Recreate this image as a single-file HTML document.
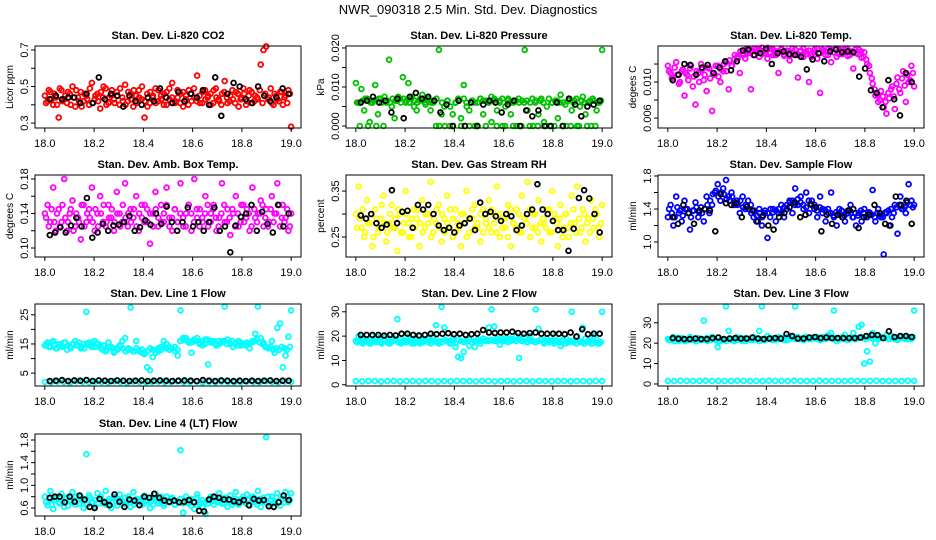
<!DOCTYPE html>
<html><head><meta charset="utf-8"><style>
html,body{margin:0;padding:0;background:#fff}
svg{display:block;font-family:"Liberation Sans",sans-serif}
</style></head><body>
<svg id="fig" width="936" height="540" viewBox="0 0 936 540" xmlns="http://www.w3.org/2000/svg">
<text x="468" y="14" text-anchor="middle" font-size="13">NWR_090318  2.5 Min. Std. Dev. Diagnostics</text>
</svg>
<script>
// ---- data ----
const xTicks = [18.0, 18.2, 18.4, 18.6, 18.8, 19.0];
const xTickLabels = ["18.0","18.2","18.4","18.6","18.8","19.0"];

const co2Red = [0.45,0.42,0.47,0.40,0.44,0.33,0.48,0.43,0.41,0.46,0.50,0.39,0.44,0.47,0.42,0.45,0.40,0.52,0.43,0.46,0.38,0.44,0.49,0.41,0.45,0.43,0.47,0.40,0.44,0.51,0.42,0.46,0.39,0.45,0.48,0.43,0.33,0.46,0.41,0.44,0.49,0.42,0.45,0.40,0.47,0.43,0.52,0.41,0.44,0.46,0.39,0.45,0.48,0.42,0.44,0.56,0.41,0.47,0.43,0.45,0.40,0.48,0.44,0.42,0.46,0.53,0.41,0.45,0.43,0.47,0.39,0.44,0.46,0.42,0.48,0.41,0.45,0.43,0.62,0.70,0.72,0.44,0.41,0.46,0.43,0.47,0.40,0.45,0.48,0.28];
const co2RedB = [0.41,0.48,0.43,0.46,0.40,0.49,0.42,0.45,0.47,0.40,0.44,0.48,0.42,0.39,0.46,0.43,0.49,0.41,0.45,0.42,0.47,0.50,0.40,0.44,0.48,0.41,0.45,0.49,0.42,0.40,0.47,0.43,0.48,0.41,0.44,0.50,0.42,0.39,0.47,0.45,0.41,0.48,0.43,0.46,0.40,0.49,0.44,0.42,0.48,0.41,0.47,0.43,0.40,0.46,0.49,0.42,0.45,0.41,0.48,0.44,0.46,0.41,0.49,0.43,0.40,0.47,0.44,0.42,0.48,0.41,0.46,0.43,0.49,0.40,0.45,0.47,0.42,0.44,0.48,0.41,0.46,0.43,0.49,0.40,0.45,0.42,0.47,0.44,0.41,0.46];
const co2Black = [0.43,0.45,0.43,0.44,0.44,0.41,0.46,0.41,0.55,0.43,0.46,0.45,0.39,0.45,0.42,0.40,0.44,0.42,0.49,0.44,0.41,0.47,0.42,0.46,0.44,0.48,0.40,0.55,0.34,0.46,0.52,0.50,0.43,0.41,0.50,0.45,0.42,0.44,0.49,0.46];

const presGreen = [0.011,0.006,0.0095,0.004,0.007,0.001,0.006,0.0105,0.003,0.007,0,0.006,0.017,0.005,0.002,0.0065,0.007,0.0125,0.006,0.011,0.007,0.005,0.004,0.0065,0.008,0.006,0.0065,0.004,0.006,0,0.0195,0.003,0.005,0.0065,0,0.003,0.006,0.007,0.002,0.0105,0.006,0.004,0.0065,0,0.006,0.007,0.003,0.0065,0.006,0.001,0.007,0.004,0.0065,0,0.005,0.007,0.003,0.006,0,0.006,0.0065,0.0195,0.004,0.006,0,0.0065,0.003,0.007,0.001,0.005,0,0.006,0.0065,0.002,0.008,0.006,0,0.007,0.004,0.0065,0,0.005,0.0075,0.003,0.006,0,0.0065,0.004,0.006,0.0195];
const presGreenB = [0.006,0,0.0065,0.007,0,0.006,0.0065,0,0.007,0.006,0.0075,0.0065,0.006,0.007,0.0065,0.0075,0.006,0.007,0.0065,0.006,0.0075,0.0065,0.006,0.007,0.0065,0.0055,0.007,0.006,0.0065,0.007,0,0.006,0,0.0065,0.005,0,0.006,0.0065,0,0.007,0.005,0,0.0065,0.006,0,0.007,0.0065,0,0.006,0.0075,0.0065,0,0.006,0.007,0,0.0065,0.006,0,0.0065,0.007,0,0.006,0.0065,0,0.007,0.006,0,0.0065,0.006,0,0.007,0.006,0,0.0065,0.006,0,0.0055,0.0065,0,0.006,0.007,0,0.0065,0.006,0,0.0065,0.007,0,0.006,0.0065];
const presBlack = [0.006,0.0065,0.0075,0.006,0.0065,0.0035,0.007,0.002,0.0075,0.0085,0.007,0.0075,0.0065,0.0035,0.0055,0,0.0065,0,0.006,0,0.0055,0.0065,0.006,0.0035,0.0055,0.0065,0,0.004,0.0025,0.004,0,0,0.006,0,0.007,0.0055,0.0025,0.005,0.0055,0.0065];

const tempMag = [0.0118,0.0110,0.0105,0.0122,0.0098,0.0112,0.0085,0.0108,0.0115,0.0095,0.0075,0.0110,0.0120,0.0102,0.0090,0.0115,0.0068,0.0108,0.0118,0.0100,0.0112,0.0122,0.0092,0.0118,0.0125,0.0128,0.0110,0.0132,0.0126,0.0134,0.0092,0.0130,0.0136,0.0128,0.0138,0.0132,0.0126,0.0137,0.0130,0.0134,0.0110,0.0136,0.0129,0.0133,0.0124,0.0137,0.0131,0.0105,0.0135,0.0128,0.0134,0.0100,0.0131,0.0136,0.0126,0.0088,0.0134,0.0130,0.0137,0.0122,0.0133,0.0128,0.0136,0.0131,0.0137,0.0129,0.0134,0.0115,0.0132,0.0136,0.0127,0.0133,0.0120,0.0110,0.0098,0.0085,0.0078,0.0090,0.0072,0.0065,0.0082,0.0095,0.0070,0.0105,0.0088,0.0112,0.0078,0.0100,0.0118,0.0095];
const tempMagB = [0.0112,0.0104,0.0116,0.0108,0.0100,0.0114,0.0110,0.0102,0.0118,0.0106,0.0112,0.0100,0.0114,0.0108,0.0116,0.0104,0.0110,0.0118,0.0106,0.0114,0.0120,0.0112,0.0124,0.0118,0.0130,0.0126,0.0134,0.0130,0.0136,0.0132,0.0135,0.0137,0.0133,0.0136,0.0131,0.0135,0.0138,0.0132,0.0136,0.0130,0.0134,0.0137,0.0131,0.0135,0.0129,0.0133,0.0136,0.0130,0.0134,0.0137,0.0131,0.0135,0.0128,0.0133,0.0137,0.0132,0.0136,0.0134,0.0130,0.0136,0.0133,0.0137,0.0131,0.0135,0.0133,0.0137,0.0130,0.0134,0.0136,0.0131,0.0134,0.0128,0.0125,0.0118,0.0104,0.0092,0.0086,0.0080,0.0084,0.0078,0.0088,0.0092,0.0084,0.0098,0.0092,0.0104,0.0096,0.0108,0.0102,0.0110];
const tempBlack = [0.0102,0.0108,0.0120,0.0119,0.0108,0.0116,0.0119,0.0110,0.0116,0.0123,0.0113,0.0123,0.0135,0.0136,0.0130,0.0132,0.0137,0.0120,0.0132,0.0134,0.0131,0.0130,0.0128,0.0114,0.0125,0.0132,0.0123,0.0134,0.0136,0.0133,0.0134,0.0133,0.0106,0.0115,0.0091,0.0088,0.0072,0.0102,0.0081,0.0063,0.0110,0.0100];

const ambMag = [0.14,0.15,0.13,0.17,0.12,0.145,0.13,0.18,0.12,0.14,0.155,0.125,0.135,0.11,0.15,0.13,0.145,0.17,0.12,0.14,0.16,0.13,0.125,0.15,0.135,0.12,0.165,0.14,0.13,0.175,0.125,0.145,0.135,0.16,0.12,0.15,0.13,0.145,0.105,0.14,0.165,0.125,0.15,0.13,0.17,0.135,0.12,0.145,0.13,0.175,0.125,0.14,0.15,0.12,0.18,0.135,0.145,0.13,0.16,0.125,0.14,0.15,0.12,0.135,0.175,0.13,0.145,0.115,0.14,0.16,0.125,0.15,0.13,0.145,0.12,0.17,0.135,0.14,0.155,0.125,0.145,0.13,0.16,0.14,0.175,0.125,0.15,0.135,0.12,0.14];
const ambMagB = [0.135,0.125,0.145,0.13,0.14,0.125,0.15,0.135,0.13,0.145,0.12,0.14,0.13,0.15,0.125,0.14,0.135,0.13,0.145,0.125,0.14,0.15,0.13,0.135,0.145,0.13,0.14,0.125,0.15,0.135,0.14,0.13,0.145,0.125,0.14,0.135,0.15,0.13,0.14,0.125,0.145,0.135,0.13,0.14,0.15,0.125,0.135,0.145,0.13,0.14,0.135,0.125,0.15,0.14,0.13,0.145,0.125,0.135,0.14,0.15,0.13,0.145,0.135,0.125,0.14,0.15,0.13,0.135,0.145,0.125,0.14,0.13,0.15,0.135,0.14,0.125,0.145,0.13,0.14,0.15,0.135,0.125,0.145,0.13,0.14,0.15,0.135,0.13,0.145,0.125];
const ambBlack = [0.115,0.118,0.124,0.118,0.126,0.135,0.125,0.158,0.112,0.118,0.128,0.12,0.126,0.127,0.13,0.137,0.12,0.124,0.132,0.127,0.14,0.128,0.148,0.13,0.12,0.13,0.147,0.125,0.13,0.12,0.13,0.147,0.12,0.125,0.095,0.126,0.136,0.14,0.15,0.12,0.142,0.128,0.118,0.15,0.125,0.14];

const rhYellow = [0.30,0.36,0.27,0.25,0.33,0.28,0.23,0.31,0.26,0.29,0.34,0.24,0.28,0.32,0.27,0.22,0.30,0.26,0.35,0.28,0.25,0.31,0.29,0.23,0.33,0.27,0.30,0.37,0.26,0.28,0.32,0.24,0.29,0.34,0.27,0.25,0.31,0.28,0.23,0.30,0.35,0.26,0.29,0.32,0.27,0.24,0.31,0.28,0.33,0.26,0.30,0.36,0.25,0.29,0.27,0.32,0.23,0.28,0.31,0.26,0.34,0.29,0.37,0.25,0.30,0.27,0.33,0.24,0.28,0.31,0.26,0.35,0.29,0.23,0.32,0.27,0.30,0.25,0.34,0.28,0.36,0.26,0.31,0.24,0.29,0.33,0.27,0.30,0.25,0.32];
const rhYellowB = [0.27,0.29,0.31,0.26,0.28,0.30,0.25,0.29,0.27,0.32,0.28,0.26,0.30,0.27,0.29,0.31,0.26,0.28,0.30,0.25,0.29,0.27,0.31,0.28,0.26,0.30,0.28,0.25,0.29,0.31,0.27,0.30,0.26,0.28,0.31,0.29,0.26,0.27,0.30,0.28,0.25,0.29,0.31,0.27,0.28,0.30,0.26,0.29,0.27,0.31,0.28,0.26,0.30,0.27,0.29,0.25,0.31,0.28,0.27,0.30,0.26,0.29,0.28,0.31,0.27,0.30,0.26,0.28,0.29,0.27,0.31,0.26,0.30,0.28,0.29,0.25,0.30,0.27,0.28,0.31,0.26,0.29,0.27,0.30,0.28,0.26,0.29,0.31,0.27,0.28];
const rhBlack = [0.297,0.29,0.30,0.28,0.27,0.277,0.352,0.28,0.305,0.307,0.27,0.32,0.31,0.32,0.30,0.275,0.265,0.27,0.26,0.275,0.28,0.29,0.265,0.325,0.30,0.305,0.295,0.285,0.30,0.295,0.265,0.275,0.30,0.31,0.365,0.31,0.30,0.285,0.265,0.265,0.22,0.268,0.335,0.352,0.334,0.30,0.26];

const flowBlue = [1.3,1.45,1.2,1.55,1.35,1.25,1.5,1.4,1.15,1.38,1.48,1.3,1.42,1.25,1.55,1.35,1.45,1.6,1.7,1.5,1.65,1.75,1.55,1.6,1.45,1.5,1.35,1.55,1.4,1.5,1.45,1.3,1.25,1.4,1.2,1.35,1.05,1.3,1.4,1.25,1.35,1.45,1.3,1.4,1.5,1.35,1.65,1.45,1.55,1.4,1.6,1.35,1.5,1.45,1.3,1.55,1.4,1.25,1.35,1.6,1.3,1.2,1.4,1.3,1.25,1.35,1.45,1.3,1.2,1.35,1.25,1.4,1.3,1.35,1.63,1.25,1.4,1.3,0.85,1.35,1.2,1.3,1.45,1.1,1.55,1.4,1.35,1.7,1.5,1.45];
const flowBlueB = [1.4,1.35,1.3,1.42,1.38,1.32,1.4,1.35,1.3,1.38,1.42,1.36,1.35,1.4,1.45,1.5,1.58,1.62,1.55,1.6,1.58,1.52,1.5,1.55,1.48,1.45,1.5,1.42,1.45,1.4,1.35,1.38,1.32,1.35,1.3,1.38,1.35,1.4,1.36,1.38,1.4,1.35,1.42,1.45,1.48,1.5,1.45,1.52,1.48,1.45,1.42,1.5,1.45,1.4,1.38,1.42,1.35,1.38,1.4,1.35,1.32,1.36,1.35,1.38,1.32,1.35,1.38,1.3,1.35,1.32,1.38,1.35,1.3,1.36,1.33,1.3,1.35,1.32,1.3,1.36,1.38,1.4,1.35,1.42,1.45,1.4,1.42,1.48,1.45,1.42];
const flowBlack = [1.3,1.22,1.45,1.35,1.22,1.38,1.4,1.38,1.13,1.58,1.47,1.45,1.47,1.3,1.43,1.38,1.25,1.32,1.2,1.15,1.3,1.35,1.42,1.48,1.3,1.33,1.46,1.42,1.13,1.33,1.22,1.33,1.3,1.38,1.4,1.17,1.3,1.33,1.45,1.35,1.22,1.2,1.55,1.45,1.5,1.22];

const line1Cyan = [14.5,15.5,14,16,13.5,15,14.5,15.5,13,14,15,16,14.5,13.5,15,26,15.5,14,16,15,14.5,13,12.5,15.5,14,12,13.5,14.5,16,17,13,27.5,12.5,16,13,12,11.5,7,6,10.5,13,12.5,14,16,15,14,13.5,12.5,11,26.5,17,16.5,15.5,12,16,17,15,14.5,16.5,8,15.5,16,14.5,15,16,27.8,16.5,15,14,15.5,16,14.5,15,15.5,13.5,16,18.5,27.8,17,15.5,14,13.5,16,12,20.5,22,7,11,17.5,26.5];
const line1CyanB = [15,14,15.5,14.5,13.5,15,14,15.5,14.5,13.5,15,14.5,15.5,14,13.5,15,14.5,15.5,14,15,13.5,14.5,13,14,13.5,12.5,13,14,13.5,12.5,13.5,13,12.5,13.5,12.5,13,12,12.5,13.5,13,12,13.5,13,14,13.5,13,13.5,14,13,16,16.5,17,16,15.5,16.5,16,15.5,16,15,16.5,16,15.5,15,16,15.5,16,15,15.5,16,15,14.5,15.5,15,14.5,15,15.5,16,16.5,15.5,15,14,13.5,14,13,13.5,13,14,13.5,13,14];
const line1Low = [2.0,1.9,2.1,2.0,1.8,2.2,2.0,1.9,2.1,2.0,1.9,2.2,2.0,1.8,2.1,2.0,1.9,2.0,2.1,1.9,2.0,2.2,1.9,2.0,2.1,1.8,2.0,1.9,2.1,2.0,1.9,2.0,2.1,2.0,1.9,2.2,2.0,1.9,2.1,2.0];
const line1Black = [2.3,2.4,2.6,2.3,2.5,2.4,2.6,2.3,2.5,2.4,2.3,2.5,2.4,2.3,2.4,2.5,2.3,2.4,2.5,2.4,2.3,2.4,2.5,2.4,2.3,2.6,2.4,2.3,2.5,2.4,2.3,2.4,2.3,2.4,2.3,2.4,2.5,2.3,2.4,2.4];

const line2Cyan = [18,20,17.5,19,18.5,17,20,18,19.5,17.5,18.5,20,17,18,19,27,18.5,17.5,20,18,19,17,18.5,20,17.5,18,19,18.5,20,24.5,17,32,23.5,18,17,19,15.5,11.5,11,13.5,18,16,17.5,15.5,18.5,17,19,18,23.5,31,24,18,16.5,19,18,17.5,19,18.5,20,11,18,19.5,17.5,20,18,31,23,18.5,17,19,18,17.5,20,18,16,18.5,19,17.5,30,18,20,17.5,23.5,19,18,17,20,18.5,17,30];
const line2CyanB = [17.5,18,17,18.5,17.5,17,18,17.5,18.5,17,18,17.5,17,18,18.5,17.5,17,18,17.5,18.5,17,18,17.5,17,18,18.5,17.5,17,18,17.5,18,17.5,18.5,18,17.5,18,17,18.5,18,17.5,18,18.5,17.5,18,18.5,18,19,18.5,18,18.5,18,19,18.5,18,18.5,19,18,18.5,18,19,18.5,18,17.5,18.5,18,17.5,18,18.5,17.5,18,17.5,18,17,18,17.5,18,17,17.5,18,17.5,17,18,17.5,17,17.5,18,17,17.5,17,17.5];
const line2Low = [1.5,1.4,1.6,1.5,1.3,1.5,1.6,1.4,1.5,1.5,1.4,1.6,1.5,1.3,1.5,1.4,1.6,1.5,1.5,1.4,1.6,1.5,1.4,1.5,1.6,1.4,1.5,1.5,1.3,1.6,1.5,1.4,1.5,1.6,1.4,1.5,1.5,1.4,1.6,1.5];
const line2Black = [20.5,20.5,20.5,20.5,20.2,20.5,20.3,21,21,20.5,20.3,20.5,21,20.8,21,21.2,20.8,21,20.5,20.8,21,22.5,21.5,21.3,21.5,21.5,21.8,21.3,21,21.3,21.5,21,21,21,21,20.8,21.5,19.8,22.8,20.8,21,21];

const line3Cyan = [22,21.5,23,22,21,22.5,22,21.5,23,22,21,22.5,22,31,22.5,21.5,23,22,18,21,22,38,26,22,21.5,23,22,21,22.5,22,21.5,23,22,26,38,22,23.5,22,21.5,22.5,23,22,21.5,23,22,22.5,38,23,22,21.5,23,22,22.5,23,22,21.5,23,22,24,25,36,21,22,23,24,21.5,22.5,25,22,28,29,10,16,11,25,20,22,23,22.5,24,22,23.5,22,21.5,23,22.5,22,23,22,36];
const line3CyanB = [21.5,22,21,22.5,21.5,22,21,21.5,22,21.5,21,22,21.5,22,21,21.5,22,21.5,21,22,21.5,21,22,21.5,21,22,21.5,22,21,21.5,22,21.5,22,21,22,21.5,22,22.5,22,21.5,22,22.5,22,21.5,22,22.5,22,22.5,22,22.5,23,22.5,22,22.5,23,22.5,22,22.5,23,22.5,22,22.5,22,22.5,22,22.5,22,22.5,22,22.5,23,22.5,22,23,22.5,23,23.5,22.5,23,22.5,22,23,22.5,22,22.5,23,22.5,22,22.5,23];
const line3Low = [1.5,1.4,1.6,1.5,1.4,1.5,1.6,1.4,1.5,1.5,1.4,1.6,1.5,1.4,1.5,1.4,1.6,1.5,1.5,1.4,1.6,1.5,1.4,1.5,1.6,1.4,1.5,1.5,1.4,1.6,1.5,1.4,1.5,1.6,1.4,1.5,1.5,1.4,1.6,1.5];
const line3Black = [22.5,22.2,22,22,22.3,22,22,22.5,22.8,22,22.3,22.5,22.3,22.3,22.8,22.3,22,22.3,22.5,22.3,24.5,23.5,22.3,22.3,22.8,23,22.5,22.8,22.5,22.5,22.5,22.5,22.5,22.8,23.5,24,24,22.5,25.8,23,23.5,23.5,23];

const line4Cyan = [0.8,0.65,0.9,0.58,0.75,0.7,0.85,0.62,0.78,0.72,0.88,0.66,0.74,0.8,0.6,1.55,0.82,0.7,0.64,0.86,0.76,0.68,0.9,0.72,0.6,0.8,0.7,0.84,0.66,0.78,0.72,0.62,0.88,0.7,0.75,0.66,0.82,0.72,0.6,0.78,0.85,0.68,0.74,0.64,0.8,0.7,0.76,0.66,0.72,1.62,0.52,0.8,0.68,0.76,0.58,0.84,0.7,0.62,0.5,0.74,0.8,0.66,0.72,0.86,0.68,0.78,0.62,0.82,0.7,0.88,0.66,0.76,0.72,0.84,0.64,0.8,0.7,0.9,0.62,0.78,1.85,0.68,0.8,0.72,0.86,0.64,0.76,0.88,0.7,0.86];
const line4CyanB = [0.7,0.76,0.66,0.74,0.8,0.68,0.72,0.78,0.64,0.74,0.7,0.8,0.68,0.76,0.72,0.66,0.78,0.7,0.74,0.68,0.8,0.72,0.66,0.76,0.7,0.78,0.64,0.74,0.72,0.68,0.8,0.7,0.66,0.76,0.72,0.78,0.68,0.74,0.7,0.66,0.76,0.72,0.8,0.68,0.74,0.7,0.78,0.66,0.72,0.76,0.68,0.74,0.7,0.64,0.72,0.78,0.66,0.74,0.7,0.68,0.76,0.72,0.8,0.7,0.74,0.68,0.78,0.72,0.66,0.76,0.74,0.7,0.8,0.68,0.74,0.72,0.78,0.66,0.76,0.72,0.7,0.8,0.74,0.68,0.78,0.72,0.76,0.7,0.8,0.74];
const line4Black = [0.78,0.8,0.8,0.7,0.8,0.71,0.82,0.75,0.62,0.6,0.76,0.7,0.65,0.84,0.71,0.62,0.75,0.73,0.65,0.8,0.78,0.85,0.78,0.73,0.71,0.73,0.7,0.71,0.74,0.7,0.55,0.54,0.75,0.8,0.78,0.75,0.75,0.72,0.7,0.74,0.65,0.76,0.73,0.74,0.63,0.62,0.7,0.82,0.74];

// ---- drawing ----
const svg = document.getElementById('fig');
const NS = 'http://www.w3.org/2000/svg';
const colX = [35, 346, 658], rowY = [46, 175, 304, 434], PW = 266, PH = 82;
const XMIN = 17.96, XMAX = 19.04;

function mk(tag, attrs, parent) {
  const e = document.createElementNS(NS, tag);
  for (const k in attrs) e.setAttribute(k, attrs[k]);
  (parent || svg).appendChild(e);
  return e;
}
function fmt(v, d) { return v.toFixed(d); }

function panel(p) {
  const g = mk('g', {});
  
  
  const L = colX[p.col], T = rowY[p.row];
  const sx = v => L + (v - XMIN) / (XMAX - XMIN) * PW;
  const sy = v => T + PH - (v - p.ymin) / (p.ymax - p.ymin) * PH;
  const title = mk('text', {x: L + PW / 2, y: T - 7, 'text-anchor': 'middle', 'font-size': 11, 'font-weight': 'bold'}, g);
  title.textContent = p.title;
  
  
  const clipId = 'c' + p.name;
  const cp = mk('clipPath', {id: clipId}, g);
  mk('rect', {x: L - 4, y: T - 4, width: PW + 8, height: PH + 8}, cp);
  const marks = mk('g', {'clip-path': 'url(#' + clipId + ')', fill: 'none', 'stroke-width': 1.8}, g);
  
  
  p.series.forEach(s => {
    const n = s.vals.length;
    s.vals.forEach((v, i) => {
      const t = s.x0 + (s.x1 - s.x0) * i / (n - 1);
      const c = mk('circle', {cx: sx(t).toFixed(1), cy: sy(v).toFixed(1), r: 2.4, stroke: s.color}, marks);
      
      
    });
  });
  const box = mk('rect', {x: L, y: T, width: PW, height: PH, fill: 'none', stroke: '#000', 'stroke-width': 1}, g);
  
  
  xTicks.forEach((t, i) => {
    mk('line', {x1: sx(t), x2: sx(t), y1: T + PH, y2: T + PH + 4, stroke: '#000'}, g);
    const tl = mk('text', {x: sx(t), y: T + PH + 19, 'text-anchor': 'middle', 'font-size': 11}, g);
    tl.textContent = xTickLabels[i];
    
    
  });
  p.yticks.forEach(t => {
    const y = sy(t);
    mk('line', {x1: L - 4, x2: L, y1: y, y2: y, stroke: '#000'}, g);
  });
  p.ylabels.forEach(t => {
    const y = sy(t);
    const yl = mk('text', {x: L - 7, y: y, 'text-anchor': 'middle', 'font-size': 11, transform: 'rotate(-90 ' + (L - 7) + ' ' + y + ')'}, g);
    yl.textContent = fmt(t, p.dec);
    
    
  });
  const yt = mk('text', {x: L - 22, y: T + PH / 2, 'text-anchor': 'middle', 'font-size': 10, transform: 'rotate(-90 ' + (L - 22) + ' ' + (T + PH / 2) + ')'}, g);
  yt.textContent = p.ylab;
  
  
}

const C = (vals, color, key) => ({vals, color, key, x0: 18.0, x1: 19.0});
const C2 = (vals, color, key) => ({vals, color, key, x0: 18.005, x1: 18.995});
const B = (vals) => ({vals, color: '#000', key: 'black', x0: 18.02, x1: 18.99});

panel({name:'co2', col:0,row:0,title:'Stan. Dev. Li-820 CO2',ylab:'Licor ppm',ymin:0.273,ymax:0.722,yticks:[0.3,0.4,0.5,0.6,0.7],ylabels:[0.3,0.5,0.7],dec:1,series:[C2(co2RedB,'#ff0000','red-b'),C(co2Red,'#ff0000','red'),B(co2Black)]});
panel({name:'pressure', col:1,row:0,title:'Stan. Dev. Li-820 Pressure',ylab:'kPa',ymin:-0.0005,ymax:0.0205,yticks:[0,0.005,0.01,0.015,0.02],ylabels:[0,0.01,0.02],dec:3,series:[C2(presGreenB,'#00c000','green-b'),C(presGreen,'#00c000','green'),B(presBlack)]});
panel({name:'licor-temp', col:2,row:0,title:'Stan. Dev. Li-820 Temp.',ylab:'degees C',ymin:0.0049,ymax:0.0140,yticks:[0.006,0.008,0.010,0.012],ylabels:[0.006,0.010],dec:3,series:[C2(tempMagB,'#ff00ff','magenta-b'),C(tempMag,'#ff00ff','magenta'),B(tempBlack)]});
panel({name:'amb-temp', col:0,row:1,title:'Stan. Dev. Amb. Box Temp.',ylab:'degrees C',ymin:0.0896,ymax:0.1846,yticks:[0.10,0.12,0.14,0.16,0.18],ylabels:[0.10,0.14,0.18],dec:2,series:[C2(ambMagB,'#ff00ff','magenta-b'),C(ambMag,'#ff00ff','magenta'),B(ambBlack)]});
panel({name:'rh', col:1,row:1,title:'Stan. Dev. Gas Stream RH',ylab:'percent',ymin:0.2065,ymax:0.385,yticks:[0.25,0.30,0.35],ylabels:[0.25,0.35],dec:2,series:[C2(rhYellowB,'#ffff00','yellow-b'),C(rhYellow,'#ffff00','yellow'),B(rhBlack)]});
panel({name:'sample-flow', col:2,row:1,title:'Stan. Dev. Sample Flow',ylab:'ml/min',ymin:0.818,ymax:1.812,yticks:[1.0,1.2,1.4,1.6,1.8],ylabels:[1.0,1.4,1.8],dec:1,series:[C2(flowBlueB,'#0000ff','blue-b'),C(flowBlue,'#0000ff','blue'),B(flowBlack)]});
panel({name:'line1', col:0,row:2,title:'Stan. Dev. Line 1 Flow',ylab:'ml/min',ymin:0.59,ymax:28.7,yticks:[5,10,15,20,25],ylabels:[5,15,25],dec:0,series:[C2(line1CyanB,'#00ffff','cyan-b'),C(line1Cyan,'#00ffff','cyan'),C(line1Low,'#00ffff','cyan-low'),B(line1Black)]});
panel({name:'line2', col:1,row:2,title:'Stan. Dev. Line 2 Flow',ylab:'ml/min',ymin:-0.5,ymax:33.2,yticks:[0,10,20,30],ylabels:[0,10,20,30],dec:0,series:[C2(line2CyanB,'#00ffff','cyan-b'),C(line2Cyan,'#00ffff','cyan'),C(line2Low,'#00ffff','cyan-low'),B(line2Black)]});
panel({name:'line3', col:2,row:2,title:'Stan. Dev. Line 3 Flow',ylab:'ml/min',ymin:-1,ymax:39.2,yticks:[0,10,20,30],ylabels:[0,10,20,30],dec:0,series:[C2(line3CyanB,'#00ffff','cyan-b'),C(line3Cyan,'#00ffff','cyan'),C(line3Low,'#00ffff','cyan-low'),B(line3Black)]});
panel({name:'line4', col:0,row:3,title:'Stan. Dev. Line 4 (LT) Flow',ylab:'ml/min',ymin:0.459,ymax:1.906,yticks:[0.6,0.8,1.0,1.2,1.4,1.6,1.8],ylabels:[0.6,1.0,1.4,1.8],dec:1,series:[C2(line4CyanB,'#00ffff','cyan-b'),C(line4Cyan,'#00ffff','cyan'),B(line4Black)]});
</script>
</body></html>
